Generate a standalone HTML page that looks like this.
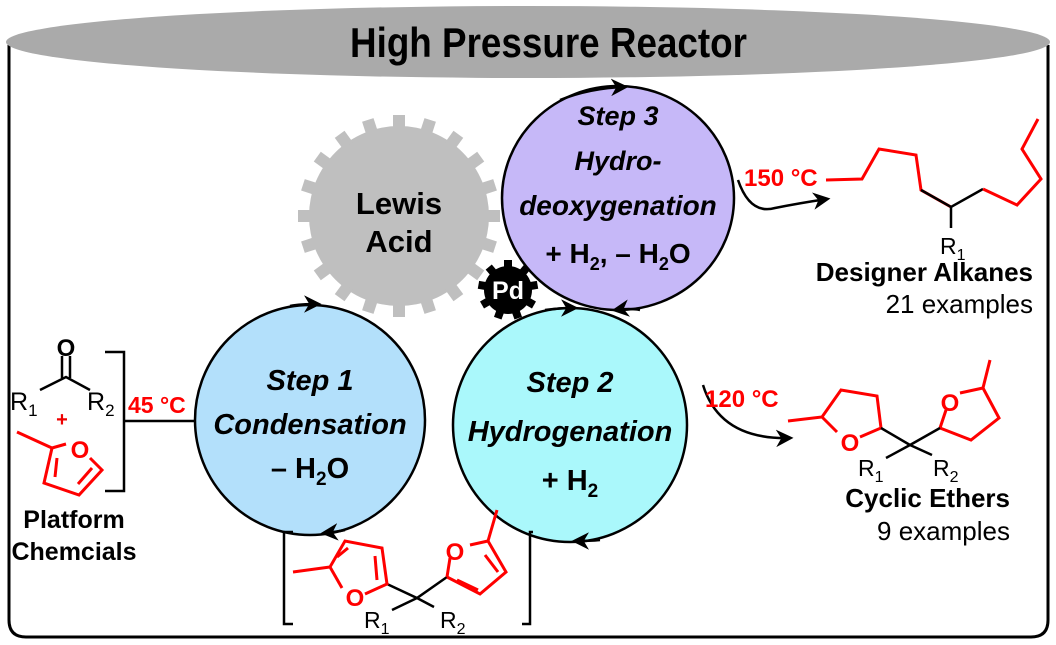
<!DOCTYPE html>
<html><head><meta charset="utf-8"><style>
body{margin:0;background:#fff}
svg{display:block}
text{font-family:"Liberation Sans",Arial,sans-serif}
</style></head><body>
<svg width="1056" height="645" viewBox="0 0 1056 645" xmlns="http://www.w3.org/2000/svg">
<defs>
<marker id="ah" viewBox="0 0 10 10" refX="8" refY="5" markerWidth="7" markerHeight="7" orient="auto"><path d="M0,0 L10,5 L0,10 L3,5z" fill="#000"/></marker>
</defs>
<path d="M9,45 V620 Q9,637 26,637 H1031 Q1048,637 1048,620 V45" fill="none" stroke="#000" stroke-width="3"/>
<ellipse cx="528" cy="42" rx="522" ry="36" fill="#aaa"/>
<text x="350" y="57" font-size="42" font-weight="bold" textLength="397" lengthAdjust="spacingAndGlyphs" fill="#000">High Pressure Reactor</text>

<g transform="translate(399,216)">
<circle r="90" fill="#bfbfbf"/>
<g fill="#bfbfbf">
<rect x="-6" y="-101" width="12" height="14" transform="rotate(0)"/>
<rect x="-6" y="-101" width="12" height="14" transform="rotate(18)"/>
<rect x="-6" y="-101" width="12" height="14" transform="rotate(36)"/>
<rect x="-6" y="-101" width="12" height="14" transform="rotate(54)"/>
<rect x="-6" y="-101" width="12" height="14" transform="rotate(72)"/>
<rect x="-6" y="-101" width="12" height="14" transform="rotate(90)"/>
<rect x="-6" y="-101" width="12" height="14" transform="rotate(108)"/>
<rect x="-6" y="-101" width="12" height="14" transform="rotate(126)"/>
<rect x="-6" y="-101" width="12" height="14" transform="rotate(144)"/>
<rect x="-6" y="-101" width="12" height="14" transform="rotate(162)"/>
<rect x="-6" y="-101" width="12" height="14" transform="rotate(180)"/>
<rect x="-6" y="-101" width="12" height="14" transform="rotate(198)"/>
<rect x="-6" y="-101" width="12" height="14" transform="rotate(216)"/>
<rect x="-6" y="-101" width="12" height="14" transform="rotate(234)"/>
<rect x="-6" y="-101" width="12" height="14" transform="rotate(252)"/>
<rect x="-6" y="-101" width="12" height="14" transform="rotate(270)"/>
<rect x="-6" y="-101" width="12" height="14" transform="rotate(288)"/>
<rect x="-6" y="-101" width="12" height="14" transform="rotate(306)"/>
<rect x="-6" y="-101" width="12" height="14" transform="rotate(324)"/>
<rect x="-6" y="-101" width="12" height="14" transform="rotate(342)"/>
</g>
<text y="-2" font-size="31" font-weight="bold" text-anchor="middle">Lewis</text>
<text y="36" font-size="31" font-weight="bold" text-anchor="middle">Acid</text>
</g>

<ellipse cx="618" cy="198" rx="116" ry="112" fill="#c6b8f8" stroke="#000" stroke-width="2.5"/>
<path d="M560,100 Q590,88 625,87" fill="none" stroke="#000" stroke-width="2.5" marker-end="url(#ah)"/>
<text x="618" y="125" font-size="27" font-weight="bold" font-style="italic" text-anchor="middle">Step 3</text>
<text x="618" y="170" font-size="27" font-weight="bold" font-style="italic" text-anchor="middle">Hydro-</text>
<text x="618" y="215" font-size="28" font-weight="bold" font-style="italic" text-anchor="middle">deoxygenation</text>
<text x="618" y="263" font-size="28" font-weight="bold" text-anchor="middle">+ H<tspan font-size="18" dy="7">2</tspan><tspan dy="-7">, – H</tspan><tspan font-size="18" dy="7">2</tspan><tspan dy="-7">O</tspan></text>

<circle cx="310" cy="420" r="115" fill="#b3e0fb" stroke="#000" stroke-width="2.5"/>
<path d="M290,306 Q300,304 318,304" fill="none" stroke="#000" stroke-width="2.5" marker-end="url(#ah)"/>
<text x="310" y="390" font-size="29" font-weight="bold" font-style="italic" text-anchor="middle">Step 1</text>
<text x="310" y="434" font-size="29" font-weight="bold" font-style="italic" text-anchor="middle">Condensation</text>
<text x="310" y="478" font-size="29" font-weight="bold" text-anchor="middle">– H<tspan font-size="19" dy="7">2</tspan><tspan dy="-7">O</tspan></text>

<circle cx="570" cy="425" r="117" fill="#aaf8fb" stroke="#000" stroke-width="2.5"/>
<path d="M545,310 Q560,308 575,308" fill="none" stroke="#000" stroke-width="2.5" marker-end="url(#ah)"/>
<path d="M640,310 Q630,308 615,310" fill="none" stroke="#000" stroke-width="2.5" marker-end="url(#ah)"/>
<path d="M600,540 Q590,541 575,541" fill="none" stroke="#000" stroke-width="2.5" marker-end="url(#ah)"/>
<path d="M345,530 Q336,532 324,533" fill="none" stroke="#000" stroke-width="2.5" marker-end="url(#ah)"/>
<text x="570" y="392" font-size="29" font-weight="bold" font-style="italic" text-anchor="middle">Step 2</text>
<text x="570" y="441" font-size="29" font-weight="bold" font-style="italic" text-anchor="middle">Hydrogenation</text>
<text x="570" y="490" font-size="29" font-weight="bold" text-anchor="middle">+ H<tspan font-size="19" dy="7">2</tspan></text>

<g transform="translate(508,290)">
<circle r="24" fill="#000"/>
<g fill="#000">
<rect x="-4" y="-30" width="8" height="9"/>
<rect x="-4" y="-30" width="8" height="9" transform="rotate(40)"/>
<rect x="-4" y="-30" width="8" height="9" transform="rotate(80)"/>
<rect x="-4" y="-30" width="8" height="9" transform="rotate(120)"/>
<rect x="-4" y="-30" width="8" height="9" transform="rotate(160)"/>
<rect x="-4" y="-30" width="8" height="9" transform="rotate(200)"/>
<rect x="-4" y="-30" width="8" height="9" transform="rotate(240)"/>
<rect x="-4" y="-30" width="8" height="9" transform="rotate(280)"/>
<rect x="-4" y="-30" width="8" height="9" transform="rotate(320)"/>
</g>
<text y="9" font-size="25" font-weight="bold" fill="#fff" text-anchor="middle">Pd</text>
</g>

<g stroke="#000" stroke-width="2.5" fill="none">
<line x1="62" y1="356" x2="62" y2="378"/><line x1="70" y1="356" x2="70" y2="378"/>
<path d="M40,390 L66,377 L90,390"/>
<path d="M105,352 H124 V491 H105"/>
<line x1="124" y1="421" x2="195" y2="421"/>
</g>
<text x="66" y="356" font-size="24" font-weight="bold" text-anchor="middle">O</text>
<text x="10" y="410" font-size="25">R<tspan font-size="17" dy="6">1</tspan></text>
<text x="87" y="410" font-size="25">R<tspan font-size="17" dy="6">2</tspan></text>
<text x="62" y="426" font-size="20" font-weight="bold" fill="#e00" text-anchor="middle">+</text>
<g stroke="#f00" stroke-width="3" fill="none">
<path d="M17,432 L52,448 L66,444"/><path d="M90,458 L102,470 L79,495 L44,483 L52,448"/>
<line x1="57" y1="458" x2="55" y2="477"/><line x1="78" y1="484" x2="92" y2="468"/>
</g>
<text x="80" y="458" font-size="24" font-weight="bold" fill="#f00" text-anchor="middle">O</text>
<text x="74" y="528" font-size="25" font-weight="bold" text-anchor="middle">Platform</text>
<text x="74" y="560" font-size="25" font-weight="bold" text-anchor="middle">Chemcials</text>
<text x="128" y="413" font-size="23" font-weight="bold" fill="#f00">45 °C</text>

<g stroke="#000" stroke-width="2.5" fill="none">
<path d="M293,532 H284 V624 H293"/>
<path d="M533,532 H530 V624 H522"/>
<path d="M387,584 L417,598 L447,577"/><path d="M417,598 L392,610"/><path d="M417,598 L434,607"/>
</g>
<g stroke="#f00" stroke-width="3" fill="none">
<path d="M293,572 L330,567 L345,541 L382,548 L387,584 L365,594"/><path d="M330,567 L342,588"/>
<line x1="337" y1="557" x2="348" y2="548"/><line x1="375" y1="556" x2="377" y2="580"/>
<path d="M447,577 L480,594 L506,572 L488,541 L470,545"/><path d="M447,577 L450,558"/><path d="M488,541 L497,510"/>
<line x1="457" y1="580" x2="478" y2="590"/><line x1="485" y1="555" x2="498" y2="572"/>
</g>
<text x="355" y="606" font-size="24" font-weight="bold" fill="#f00" text-anchor="middle">O</text>
<text x="455" y="560" font-size="24" font-weight="bold" fill="#f00" text-anchor="middle">O</text>
<text x="364" y="628" font-size="23">R<tspan font-size="16" dy="6">1</tspan></text>
<text x="440" y="628" font-size="23">R<tspan font-size="16" dy="6">2</tspan></text>

<path d="M738,180 Q750,215 775,208 Q800,203 827,199" fill="none" stroke="#000" stroke-width="2.5" marker-end="url(#ah)"/>
<text x="744" y="186" font-size="24" font-weight="bold" fill="#f00">150 °C</text>
<path d="M826,180 L862,179 L879,149 L916,155 L921,190 L951,207" fill="none" stroke="#f00" stroke-width="3"/>
<path d="M921,190 L951,207 L983,189" fill="none" stroke="#000" stroke-width="2.5"/>
<line x1="951" y1="207" x2="951" y2="228" stroke="#000" stroke-width="2.5"/>
<path d="M983,189 L1017,205 L1041,179 L1022,149 L1038,119" fill="none" stroke="#f00" stroke-width="3"/>
<text x="940" y="254" font-size="23">R<tspan font-size="16" dy="6">1</tspan></text>
<text x="1033" y="281" font-size="26" font-weight="bold" text-anchor="end">Designer Alkanes</text>
<text x="1033" y="313" font-size="26" text-anchor="end">21 examples</text>

<path d="M703,385 Q720,440 790,438" fill="none" stroke="#000" stroke-width="2.5" marker-end="url(#ah)"/>
<text x="705" y="407" font-size="24" font-weight="bold" fill="#f00">120 °C</text>
<g stroke="#f00" stroke-width="3" fill="none">
<path d="M788,421 L822,417 L841,390 L877,396 L881,428 L860,437"/><path d="M822,417 L837,432"/>
<path d="M940,428 L971,440 L999,418 L983,388 L960,393"/><path d="M940,428 L946,410"/><path d="M983,388 L990,360"/>
</g>
<path d="M881,428 L910,445 L940,428 M910,445 L886,458 M910,445 L932,455" fill="none" stroke="#000" stroke-width="2.5"/>
<text x="850" y="451" font-size="24" font-weight="bold" fill="#f00" text-anchor="middle">O</text>
<text x="950" y="411" font-size="24" font-weight="bold" fill="#f00" text-anchor="middle">O</text>
<text x="858" y="476" font-size="23">R<tspan font-size="16" dy="6">1</tspan></text>
<text x="933" y="476" font-size="23">R<tspan font-size="16" dy="6">2</tspan></text>
<text x="1010" y="507" font-size="26" font-weight="bold" text-anchor="end">Cyclic Ethers</text>
<text x="1010" y="540" font-size="26" text-anchor="end">9 examples</text>
</svg>
</body></html>
